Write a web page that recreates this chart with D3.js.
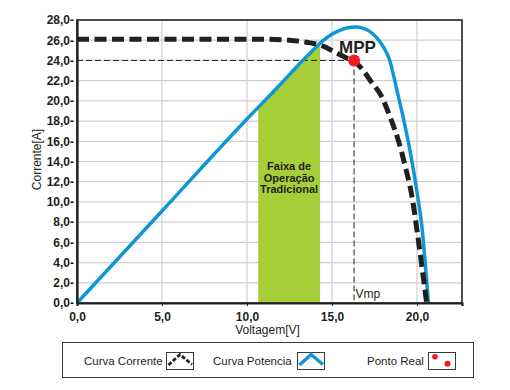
<!DOCTYPE html>
<html>
<head>
<meta charset="utf-8">
<script src="https://cdn.jsdelivr.net/npm/d3@7"></script>
<style>
  body { margin: 0; background: #fff; }
  svg { font-family: "Liberation Sans", Arial, sans-serif; }
</style>
</head>
<body>
<svg class="viz" width="510" height="390"></svg>
<script>
// Curva corrente (I x V)
var voltageI = [0, 5, 10, 11, 12, 12.5, 13.5, 14.5, 15.2, 15.8, 16.3, 16.8, 17.3, 17.9, 18.4, 18.9, 19.3, 19.7, 20.1, 20.57];
var current  = [26.1, 26.1, 26.1, 26.1, 26.05, 26.0, 25.8, 25.4, 24.8, 24.3, 23.9, 23.1, 21.9, 20.5, 18.5, 16.1, 13.6, 10.6, 6.0, 0];

// Curva potencia (escala do eixo)
var voltageP = [0, 5, 10, 12, 13, 14, 14.5, 15, 15.5, 16, 16.4, 16.8, 17.2, 17.6, 18, 18.4, 18.8, 19.2, 19.6, 20, 20.3, 20.67];
var power    = [0, 9.1, 18.2, 21.7, 23.5, 25.2, 26.0, 26.6, 27.0, 27.25, 27.3, 27.2, 26.9, 26.3, 25.4, 24.0, 21.2, 18.3, 15.0, 11.0, 7.4, 0];

var xTicks = [0, 5, 10, 15, 20];
var yTicks = [0, 2, 4, 6, 8, 10, 12, 14, 16, 18, 20, 22, 24, 26, 28];
var xDomain = [0, 22.65];
var yDomain = [0, 28];

var mppV = 16.3, mppI = 24.0;
var bandStart = 10.66, bandEnd = 14.3;
var bandLabel = ["Faixa de", "Operação", "Tradicional"];
var legendLabels = ["Curva Corrente", "Curva Potencia", "Ponto Real"];

var svg = d3.select(".viz"),
    margin = {top: 20, right: 48, bottom: 87, left: 77},
    width = +svg.attr("width") - margin.left - margin.right,
    height = +svg.attr("height") - margin.top - margin.bottom;

var dark = "#231f20", blue = "#0e96d7", green = "#a6ce39", red = "#ee1c24";

var currentData = voltageI.map(function (v, i) { return {v: v, y: current[i]}; });
var powerData = voltageP.map(function (v, i) { return {v: v, y: power[i]}; });

var scaleX = d3.scaleLinear().domain(xDomain).range([margin.left, margin.left + width]);
var scaleY = d3.scaleLinear().domain(yDomain).range([margin.top + height, margin.top]);

var fmt = function (d) { return d3.format(".1f")(d).replace(".", ","); };

// grid
svg.append("g").selectAll("line")
  .data(yTicks.filter(function (d) { return d > 0 && d < 28; }))
  .enter().append("line")
    .attr("x1", scaleX(xDomain[0])).attr("x2", scaleX(xDomain[1]))
    .attr("y1", function (d) { return scaleY(d); })
    .attr("y2", function (d) { return scaleY(d); })
    .style("stroke", "#cfcfcf").style("stroke-width", "1.2px");

svg.append("g").selectAll("line")
  .data(xTicks.filter(function (d) { return d > 0; }))
  .enter().append("line")
    .attr("y1", scaleY(yDomain[0])).attr("y2", scaleY(yDomain[1]))
    .attr("x1", function (d) { return scaleX(d); })
    .attr("x2", function (d) { return scaleX(d); })
    .style("stroke", "#cfcfcf").style("stroke-width", "1.2px");

// faixa de operacao (area sob a curva de potencia)
svg.append("clipPath").attr("id", "band")
  .append("rect")
    .attr("x", scaleX(bandStart)).attr("y", margin.top)
    .attr("width", scaleX(bandEnd) - scaleX(bandStart)).attr("height", height);

var curve = d3.curveMonotoneX;

svg.append("path")
  .datum(powerData)
  .attr("clip-path", "url(#band)")
  .attr("fill", green)
  .attr("d", d3.area().curve(curve)
    .x(function (d) { return scaleX(d.v); })
    .y0(scaleY(0))
    .y1(function (d) { return scaleY(d.y); }));

svg.append("g").selectAll("text")
  .data(bandLabel)
  .enter().append("text")
    .attr("x", scaleX((bandStart + bandEnd) / 2))
    .attr("y", function (d, i) { return 170 + i * 11.6; })
    .attr("text-anchor", "middle")
    .attr("font-size", "11px").attr("font-weight", "bold")
    .attr("fill", dark)
    .text(function (d) { return d; });

// linhas do MPP
svg.append("line")
  .attr("x1", scaleX(0)).attr("x2", scaleX(mppV))
  .attr("y1", scaleY(mppI)).attr("y2", scaleY(mppI))
  .style("stroke", dark).style("stroke-width", "1px").style("stroke-dasharray", "6,3");

svg.append("line")
  .attr("x1", scaleX(mppV)).attr("x2", scaleX(mppV))
  .attr("y1", scaleY(mppI)).attr("y2", scaleY(0))
  .style("stroke", dark).style("stroke-width", "1px").style("stroke-dasharray", "6,3");

svg.append("text")
  .attr("x", scaleX(mppV) + 1.5).attr("y", scaleY(0) - 5.5)
  .attr("font-size", "12px").attr("fill", dark)
  .text("Vmp");

// curvas
var line = d3.line().curve(curve)
  .x(function (d) { return scaleX(d.v); })
  .y(function (d) { return scaleY(d.y); });

svg.append("path")
  .datum(powerData)
  .attr("d", line)
  .attr("fill", "none")
  .style("stroke", blue).style("stroke-width", "3.5px");

svg.append("path")
  .datum(currentData)
  .attr("d", line)
  .attr("fill", "none")
  .style("stroke", dark).style("stroke-width", "5px").style("stroke-dasharray", "12,5.5");

svg.append("circle")
  .attr("cx", scaleX(mppV)).attr("cy", scaleY(mppI))
  .attr("r", 6).attr("fill", red);

svg.append("text")
  .attr("x", scaleX(mppV) - 15).attr("y", 52.5)
  .attr("font-size", "17px").attr("font-weight", "bold")
  .attr("fill", dark)
  .text("MPP");

// moldura e eixos
svg.append("rect")
  .attr("x", margin.left).attr("y", margin.top)
  .attr("width", width).attr("height", height)
  .attr("fill", "none")
  .style("stroke", "#3a3a3a").style("stroke-width", "1.8px");

var xAxis = d3.axisBottom(scaleX).tickValues(xTicks).tickSize(3).tickPadding(6.5).tickFormat(fmt);
var yAxis = d3.axisLeft(scaleY).tickValues(yTicks).tickSize(0).tickPadding(3)
  .tickFormat(function (d) { return fmt(d) + "-"; });

var gx = svg.append("g")
  .attr("transform", "translate(0," + (margin.top + height) + ")")
  .call(xAxis);
var gy = svg.append("g")
  .attr("transform", "translate(" + margin.left + ",0)")
  .call(yAxis);

[gx, gy].forEach(function (g) {
  g.select(".domain").style("stroke", dark).style("stroke-width", "2.2px");
  g.selectAll(".tick line").style("stroke", dark).style("stroke-width", "1px");
  g.selectAll(".tick text")
    .attr("fill", dark)
    .style("font-family", "'Liberation Sans', Arial, sans-serif")
    .style("font-size", "12px").style("font-weight", "bold");
});

svg.append("text")
  .attr("x", margin.left + width / 2 - 2).attr("y", 334)
  .attr("text-anchor", "middle")
  .attr("font-size", "12px").attr("fill", dark)
  .text("Voltagem[V]");

svg.append("text")
  .attr("transform", "translate(41," + (margin.top + height / 2 - 2) + ") rotate(-90)")
  .attr("text-anchor", "middle")
  .attr("font-size", "12px").attr("fill", dark)
  .text("Corrente[A]");

// legenda
var legend = svg.append("g");
legend.append("rect")
  .attr("x", 62.5).attr("y", 342.5).attr("width", 411).attr("height", 35)
  .attr("fill", "#fff")
  .style("stroke", "#3a3a3a").style("stroke-width", "1px");

var legendText = [84, 213, 367];
var legendBox = [166, 297, 428];

legend.selectAll("text")
  .data(legendLabels)
  .enter().append("text")
    .attr("x", function (d, i) { return legendText[i]; })
    .attr("y", 365)
    .attr("font-size", "11.5px").attr("fill", dark)
    .text(function (d) { return d; });

legend.selectAll(".box")
  .data(legendBox)
  .enter().append("rect")
    .attr("class", "box")
    .attr("x", function (d) { return d + 0.5; }).attr("y", 352.5)
    .attr("width", 27).attr("height", 17)
    .attr("fill", "#fff")
    .style("stroke", "#3a3a3a").style("stroke-width", "1px");

var chevron = function (x0) {
  return "M" + (x0 + 2.5) + ",365 L" + (x0 + 14) + ",354.5 L" + (x0 + 26) + ",364.5";
};

legend.append("path")
  .attr("d", chevron(legendBox[0]))
  .attr("fill", "none")
  .style("stroke", dark).style("stroke-width", "2.8px").style("stroke-dasharray", "4,2");

legend.append("path")
  .attr("d", chevron(legendBox[1]))
  .attr("fill", "none")
  .style("stroke", blue).style("stroke-width", "3.5px");

legend.append("circle").attr("cx", legendBox[2] + 7).attr("cy", 356.8).attr("r", 2.8).attr("fill", red);
legend.append("circle").attr("cx", legendBox[2] + 19.5).attr("cy", 363.7).attr("r", 3).attr("fill", red);
</script>
</body>
</html>
